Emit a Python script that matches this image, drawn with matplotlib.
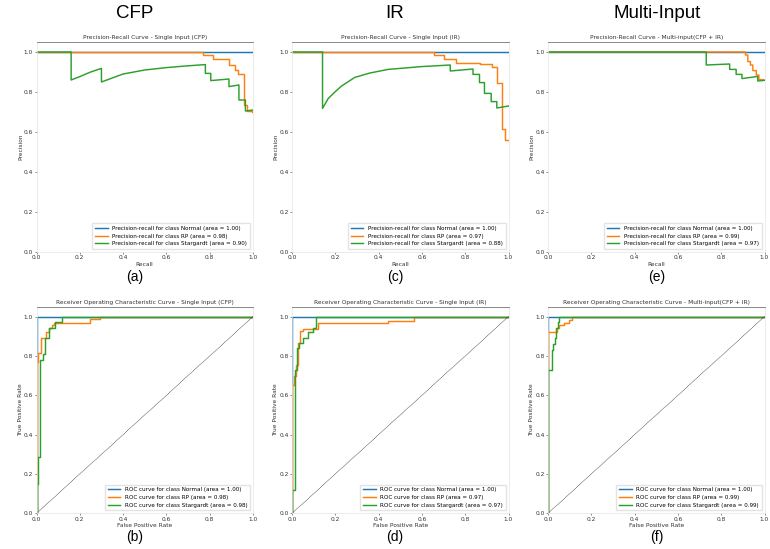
import numpy as np
import matplotlib
matplotlib.use("Agg")
import matplotlib.pyplot as plt

# ---- data ----
classes = ["Normal", "RP", "Stargardt"]
colors = ["tab:blue", "tab:orange", "tab:green"]

pr_titles = ["Precision-Recall Curve - Single Input (CFP)",
             "Precision-Recall Curve - Single Input (IR)",
             "Precision-Recall Curve - Multi-input(CFP + IR)"]
roc_titles = ["Receiver Operating Characteristic Curve - Single Input (CFP)",
              "Receiver Operating Characteristic Curve - Single Input (IR)",
              "Receiver Operating Characteristic Curve - Multi-input(CFP + IR)"]
headers = ["CFP", "IR", "Multi-Input"]
pr_letters = ["(a)", "(c)", "(e)"]
roc_letters = ["(b)", "(d)", "(f)"]

pr_areas = [[1.00, 0.98, 0.90], [1.00, 0.97, 0.88], [1.00, 0.99, 0.97]]
roc_areas = [[1.00, 0.98, 0.98], [1.00, 0.97, 0.97], [1.00, 0.99, 0.99]]

# precision-recall, CFP
cfp_pr_normal_r = [0.0, 1.0]
cfp_pr_normal_p = [1.0, 1.0]
cfp_pr_rp_r = [0.0, 0.77, 0.77, 0.816, 0.816, 0.889, 0.889, 0.917, 0.917, 0.932, 0.932,
               0.958, 0.958, 0.974, 0.974, 0.994, 0.994, 1.0]
cfp_pr_rp_p = [1.0, 1.0, 0.985, 0.985, 0.965, 0.965, 0.935, 0.935, 0.91, 0.91, 0.888,
               0.888, 0.735, 0.735, 0.707, 0.707, 0.70, 0.70]
cfp_pr_sg_r = [0.0, 0.16, 0.16, 0.20, 0.25, 0.30, 0.30, 0.40, 0.50, 0.60, 0.70, 0.78, 0.78,
               0.805, 0.805, 0.889, 0.889, 0.935, 0.935, 0.965, 0.965, 1.0]
cfp_pr_sg_p = [1.0, 1.0, 0.86, 0.877, 0.90, 0.918, 0.85, 0.89, 0.91, 0.922, 0.931, 0.937,
               0.893, 0.893, 0.857, 0.865, 0.827, 0.835, 0.76, 0.76, 0.705, 0.71]

# precision-recall, IR
ir_pr_normal_r = [0.0, 1.0]
ir_pr_normal_p = [1.0, 1.0]
ir_pr_rp_r = [0.0, 0.654, 0.654, 0.70, 0.70, 0.759, 0.759, 0.87, 0.87, 0.925, 0.925,
              0.946, 0.946, 0.97, 0.97, 0.986, 0.986, 1.0]
ir_pr_rp_p = [1.0, 1.0, 0.985, 0.985, 0.965, 0.965, 0.947, 0.947, 0.938, 0.938, 0.923,
              0.923, 0.843, 0.843, 0.613, 0.613, 0.56, 0.56]
ir_pr_sg_r = [0.0, 0.141, 0.141, 0.167, 0.198, 0.229, 0.29, 0.36, 0.444, 0.598, 0.731,
              0.731, 0.836, 0.836, 0.866, 0.866, 0.889, 0.889, 0.92, 0.92, 0.946, 0.946, 1.0]
ir_pr_sg_p = [1.0, 1.0, 0.718, 0.767, 0.80, 0.83, 0.873, 0.895, 0.913, 0.927, 0.935,
              0.905, 0.915, 0.888, 0.888, 0.847, 0.847, 0.793, 0.793, 0.752, 0.752, 0.72, 0.73]

# precision-recall, multi-input
mi_pr_normal_r = [0.0, 1.0]
mi_pr_normal_p = [1.0, 1.0]
mi_pr_rp_r = [0.0, 0.912, 0.912, 0.923, 0.923, 0.935, 0.935, 0.946, 0.946, 0.962, 0.962,
              0.974, 0.974, 1.0]
mi_pr_rp_p = [1.0, 1.0, 0.985, 0.985, 0.952, 0.952, 0.935, 0.935, 0.907, 0.907, 0.885,
              0.885, 0.863, 0.86]
mi_pr_sg_r = [0.0, 0.731, 0.731, 0.839, 0.839, 0.869, 0.869, 0.896, 0.896, 0.969, 0.969, 1.0]
mi_pr_sg_p = [1.0, 1.0, 0.935, 0.94, 0.913, 0.913, 0.888, 0.888, 0.867, 0.878, 0.855, 0.858]

# ROC, CFP
cfp_roc_normal_f = [0.0, 0.0, 1.0]
cfp_roc_normal_t = [0.0, 1.0, 1.0]
cfp_roc_rp_f = [0.0, 0.0, 0.006, 0.006, 0.022, 0.022, 0.043, 0.043, 0.059, 0.059, 0.07, 0.07,
                0.083, 0.083, 0.245, 0.245, 0.294, 0.294, 1.0]
cfp_roc_rp_t = [0.0, 0.77, 0.77, 0.817, 0.817, 0.89, 0.89, 0.923, 0.923, 0.94, 0.94, 0.955,
                0.955, 0.969, 0.969, 0.986, 0.986, 1.0, 1.0]
cfp_roc_sg_f = [0.0, 0.0, 0.006, 0.006, 0.016, 0.016, 0.032, 0.032, 0.04, 0.04, 0.056, 0.056,
                0.086, 0.086, 0.117, 0.117, 1.0]
cfp_roc_sg_t = [0.0, 0.15, 0.15, 0.288, 0.288, 0.78, 0.78, 0.81, 0.81, 0.89, 0.89, 0.94,
                0.94, 0.972, 0.972, 1.0, 1.0]

# ROC, IR
ir_roc_normal_f = [0.0, 0.0, 1.0]
ir_roc_normal_t = [0.0, 1.0, 1.0]
ir_roc_rp_f = [0.0, 0.0, 0.009, 0.009, 0.02, 0.02, 0.03, 0.03, 0.038, 0.038, 0.053, 0.053,
               0.12, 0.12, 0.444, 0.444, 0.565, 0.565, 1.0]
ir_roc_rp_t = [0.0, 0.65, 0.65, 0.70, 0.70, 0.755, 0.755, 0.865, 0.865, 0.925, 0.925, 0.935,
               0.935, 0.969, 0.969, 0.979, 0.979, 1.0, 1.0]
ir_roc_sg_f = [0.0, 0.0, 0.014, 0.014, 0.022, 0.022, 0.034, 0.034, 0.051, 0.051, 0.074, 0.074,
               0.097, 0.097, 0.113, 0.113, 1.0]
ir_roc_sg_t = [0.0, 0.12, 0.12, 0.73, 0.73, 0.84, 0.84, 0.866, 0.866, 0.892, 0.892, 0.92,
               0.92, 0.943, 0.943, 1.0, 1.0]

# ROC, multi-input
mi_roc_normal_f = [0.0, 0.0, 1.0]
mi_roc_normal_t = [0.0, 1.0, 1.0]
mi_roc_rp_f = [0.0, 0.0, 0.04, 0.04, 0.053, 0.053, 0.076, 0.076, 0.096, 0.096, 0.112, 0.112, 1.0]
mi_roc_rp_t = [0.0, 0.92, 0.92, 0.94, 0.94, 0.96, 0.96, 0.97, 0.97, 0.985, 0.985, 1.0, 1.0]
mi_roc_sg_f = [0.0, 0.0, 0.017, 0.017, 0.023, 0.023, 0.031, 0.031, 0.039, 0.039, 0.046, 0.046,
               0.051, 0.051, 1.0]
mi_roc_sg_t = [0.0, 0.73, 0.73, 0.83, 0.83, 0.862, 0.862, 0.89, 0.89, 0.94, 0.94, 0.975,
               0.975, 1.0, 1.0]

pr_curves = [
    [(cfp_pr_normal_r, cfp_pr_normal_p), (cfp_pr_rp_r, cfp_pr_rp_p), (cfp_pr_sg_r, cfp_pr_sg_p)],
    [(ir_pr_normal_r, ir_pr_normal_p), (ir_pr_rp_r, ir_pr_rp_p), (ir_pr_sg_r, ir_pr_sg_p)],
    [(mi_pr_normal_r, mi_pr_normal_p), (mi_pr_rp_r, mi_pr_rp_p), (mi_pr_sg_r, mi_pr_sg_p)],
]
roc_curves = [
    [(cfp_roc_normal_f, cfp_roc_normal_t), (cfp_roc_rp_f, cfp_roc_rp_t), (cfp_roc_sg_f, cfp_roc_sg_t)],
    [(ir_roc_normal_f, ir_roc_normal_t), (ir_roc_rp_f, ir_roc_rp_t), (ir_roc_sg_f, ir_roc_sg_t)],
    [(mi_roc_normal_f, mi_roc_normal_t), (mi_roc_rp_f, mi_roc_rp_t), (mi_roc_sg_f, mi_roc_sg_t)],
]

# ---- layout (pixels of a 770x549 canvas) ----
W, H = 770, 549
col_left = [36.5, 292, 548]
col_w = 216.5
pr_top, pr_bot = 42, 252
roc_top, roc_bot = 306.8, 513.3
head_x = [135, 395, 657]

fs = 4.2


def style_axes(ax):
    for side in ["left", "right", "bottom"]:
        ax.spines[side].set_color("#e4e4e4")
        ax.spines[side].set_linewidth(0.5)
    ax.spines["top"].set_color("#888888")
    ax.spines["top"].set_linewidth(0.7)
    ax.tick_params(labelsize=fs, length=1.5, width=0.4, pad=1.0, colors="#333333")
    ax.set_xticks([0, 0.2, 0.4, 0.6, 0.8, 1.0])
    ax.set_yticks([0, 0.2, 0.4, 0.6, 0.8, 1.0])
    ax.set_xlim(0, 1.0)
    ax.set_ylim(0, 1.05)


fig = plt.figure(figsize=(W / 100, H / 100), dpi=100)

for i in range(3):
    # precision-recall
    ax = fig.add_axes([col_left[i] / W, 1 - pr_bot / H, col_w / W, (pr_bot - pr_top) / H])
    for k in range(3):
        r, p = pr_curves[i][k]
        ax.plot(r, p, color=colors[k], lw=1.05,
                label="Precision-recall for class %s (area = %.2f)" % (classes[k], pr_areas[i][k]))
    style_axes(ax)
    ax.set_title(pr_titles[i], fontsize=fs, pad=2, color="#333333")
    ax.set_xlabel("Recall", fontsize=fs, labelpad=1, color="#333333")
    ax.set_ylabel("Precision", fontsize=fs, labelpad=0.5, color="#333333")
    ax.legend(loc="lower right", fontsize=fs - 0.1, handlelength=2.2, borderpad=0.5,
              labelspacing=0.45, frameon=True, edgecolor="#dddddd", fancybox=False)

    # ROC
    ax = fig.add_axes([col_left[i] / W, 1 - roc_bot / H, col_w / W, (roc_bot - roc_top) / H])
    for k in range(3):
        f, t = roc_curves[i][k]
        ax.plot(f, t, color=colors[k], lw=1.05,
                label="ROC curve for class %s (area = %.2f)" % (classes[k], roc_areas[i][k]))
    ax.plot([0, 1], [0, 1], "k--", lw=0.35, dashes=(2, 1))
    style_axes(ax)
    ax.set_title(roc_titles[i], fontsize=fs, pad=2, color="#333333")
    ax.set_xlabel("False Positive Rate", fontsize=fs, labelpad=1, color="#333333")
    ax.set_ylabel("True Positive Rate", fontsize=fs, labelpad=0.5, color="#333333")
    ax.legend(loc="lower right", fontsize=fs - 0.1, handlelength=2.2, borderpad=0.5,
              labelspacing=0.45, frameon=True, edgecolor="#dddddd", fancybox=False)

    fig.text(head_x[i] / W, 1 - 14 / H, headers[i], fontsize=13.5, family="Liberation Sans",
             ha="center", va="center")
    fig.text(head_x[i] / W, 1 - 277 / H, pr_letters[i], fontsize=10, family="Liberation Sans",
             ha="center", va="center")
    fig.text(head_x[i] / W, 1 - 537 / H, roc_letters[i], fontsize=10, family="Liberation Sans",
             ha="center", va="center")

fig.savefig("out.png", dpi=100, facecolor="white")
